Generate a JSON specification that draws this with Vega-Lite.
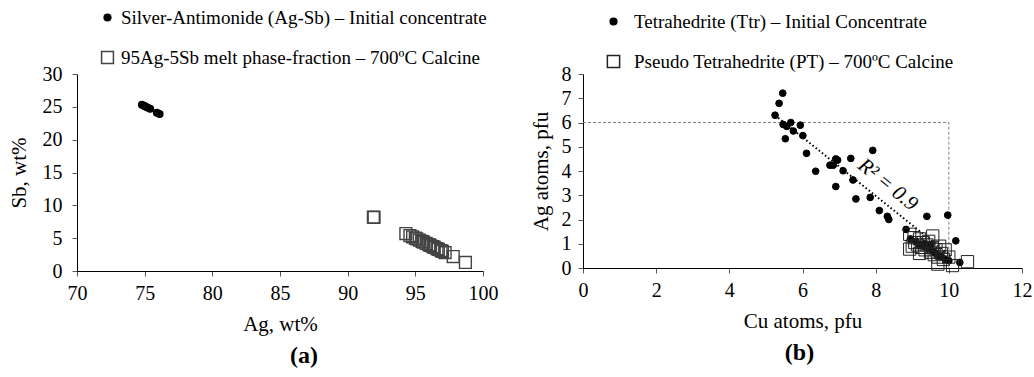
{
  "$schema": "https://vega.github.io/schema/vega-lite/v6.json",
  "padding": {"left": 8, "top": 8, "right": 2, "bottom": 2},
  "config": {
    "font": "Liberation Serif",
    "view": {"stroke": null},
    "axis": {"grid": false, "domainColor": "black", "tickColor": "#555", "labelColor": "black", "titleColor": "black", "labelFont": "Liberation Serif", "titleFont": "Liberation Serif", "labelFontSize": 20, "titleFontSize": 21, "titleFontWeight": "normal", "tickSize": 5, "labelPadding": 7, "titlePadding": 10, "labelFlush": false, "labelOverlap": false},
    "legend": {"labelFont": "Liberation Serif", "labelFontSize": 19, "labelColor": "black", "labelLimit": 700, "rowPadding": 20, "labelOffset": 4, "orient": "none"},
    "title": {"orient": "bottom", "font": "Liberation Serif", "fontSize": 24, "fontWeight": "bold", "color": "black", "offset": 10},
    "text": {"font": "Liberation Serif"},
    "concat": {"spacing": 32}
  },
  "resolve": {"scale": {"shape": "independent", "fill": "independent", "stroke": "independent", "size": "independent", "x": "independent", "y": "independent"}, "legend": {"shape": "independent", "fill": "independent", "stroke": "independent", "size": "independent"}},
  "hconcat": [
    {
      "width": 406,
      "height": 197,
      "title": {"text": "(a)", "dx": 24},
      "data": {"values": [
        {"Ag": 74.8, "Sb": 25.3, "series": "Silver-Antimonide (Ag-Sb) – Initial concentrate"},
        {"Ag": 75.0, "Sb": 25.1, "series": "Silver-Antimonide (Ag-Sb) – Initial concentrate"},
        {"Ag": 75.2, "Sb": 24.9, "series": "Silver-Antimonide (Ag-Sb) – Initial concentrate"},
        {"Ag": 75.4, "Sb": 24.7, "series": "Silver-Antimonide (Ag-Sb) – Initial concentrate"},
        {"Ag": 75.9, "Sb": 24.1, "series": "Silver-Antimonide (Ag-Sb) – Initial concentrate"},
        {"Ag": 76.1, "Sb": 23.9, "series": "Silver-Antimonide (Ag-Sb) – Initial concentrate"},
        {"Ag": 91.9, "Sb": 8.2, "series": "95Ag-5Sb melt phase-fraction – 700ºC Calcine"},
        {"Ag": 91.95, "Sb": 8.15, "series": "95Ag-5Sb melt phase-fraction – 700ºC Calcine"},
        {"Ag": 94.3, "Sb": 5.7, "series": "95Ag-5Sb melt phase-fraction – 700ºC Calcine"},
        {"Ag": 94.6, "Sb": 5.4, "series": "95Ag-5Sb melt phase-fraction – 700ºC Calcine"},
        {"Ag": 94.8, "Sb": 5.2, "series": "95Ag-5Sb melt phase-fraction – 700ºC Calcine"},
        {"Ag": 95.0, "Sb": 5.0, "series": "95Ag-5Sb melt phase-fraction – 700ºC Calcine"},
        {"Ag": 95.1, "Sb": 4.9, "series": "95Ag-5Sb melt phase-fraction – 700ºC Calcine"},
        {"Ag": 95.3, "Sb": 4.7, "series": "95Ag-5Sb melt phase-fraction – 700ºC Calcine"},
        {"Ag": 95.5, "Sb": 4.5, "series": "95Ag-5Sb melt phase-fraction – 700ºC Calcine"},
        {"Ag": 95.6, "Sb": 4.4, "series": "95Ag-5Sb melt phase-fraction – 700ºC Calcine"},
        {"Ag": 95.8, "Sb": 4.2, "series": "95Ag-5Sb melt phase-fraction – 700ºC Calcine"},
        {"Ag": 96.0, "Sb": 4.0, "series": "95Ag-5Sb melt phase-fraction – 700ºC Calcine"},
        {"Ag": 96.1, "Sb": 3.9, "series": "95Ag-5Sb melt phase-fraction – 700ºC Calcine"},
        {"Ag": 96.3, "Sb": 3.7, "series": "95Ag-5Sb melt phase-fraction – 700ºC Calcine"},
        {"Ag": 96.4, "Sb": 3.6, "series": "95Ag-5Sb melt phase-fraction – 700ºC Calcine"},
        {"Ag": 96.6, "Sb": 3.4, "series": "95Ag-5Sb melt phase-fraction – 700ºC Calcine"},
        {"Ag": 96.7, "Sb": 3.3, "series": "95Ag-5Sb melt phase-fraction – 700ºC Calcine"},
        {"Ag": 96.9, "Sb": 3.1, "series": "95Ag-5Sb melt phase-fraction – 700ºC Calcine"},
        {"Ag": 97.0, "Sb": 3.0, "series": "95Ag-5Sb melt phase-fraction – 700ºC Calcine"},
        {"Ag": 97.2, "Sb": 2.8, "series": "95Ag-5Sb melt phase-fraction – 700ºC Calcine"},
        {"Ag": 97.8, "Sb": 2.2, "series": "95Ag-5Sb melt phase-fraction – 700ºC Calcine"},
        {"Ag": 98.7, "Sb": 1.3, "series": "95Ag-5Sb melt phase-fraction – 700ºC Calcine"}
      ]},
      "mark": {"type": "point", "strokeWidth": 1.4, "opacity": 1},
      "encoding": {
        "x": {"field": "Ag", "type": "quantitative", "scale": {"domain": [70, 100], "nice": false, "zero": false}, "axis": {"values": [70, 75, 80, 85, 90, 95, 100], "title": "Ag, wt%", "format": "d"}},
        "y": {"field": "Sb", "type": "quantitative", "scale": {"domain": [0, 30], "nice": false}, "axis": {"values": [0, 5, 10, 15, 20, 25, 30], "title": "Sb, wt%", "format": "d", "labelPadding": 10, "titlePadding": 13}},
        "shape": {"field": "series", "type": "nominal", "scale": {"domain": ["Silver-Antimonide (Ag-Sb) – Initial concentrate", "95Ag-5Sb melt phase-fraction – 700ºC Calcine"], "range": ["circle", "square"]}, "legend": {"title": null, "legendX": 21, "legendY": -66}},
        "fill": {"field": "series", "type": "nominal", "scale": {"domain": ["Silver-Antimonide (Ag-Sb) – Initial concentrate", "95Ag-5Sb melt phase-fraction – 700ºC Calcine"], "range": ["black", "transparent"]}, "legend": {"title": null, "legendX": 21, "legendY": -66}},
        "stroke": {"field": "series", "type": "nominal", "scale": {"domain": ["Silver-Antimonide (Ag-Sb) – Initial concentrate", "95Ag-5Sb melt phase-fraction – 700ºC Calcine"], "range": ["black", "#444444"]}, "legend": {"title": null, "legendX": 21, "legendY": -66}},
        "size": {"field": "series", "type": "nominal", "scale": {"domain": ["Silver-Antimonide (Ag-Sb) – Initial concentrate", "95Ag-5Sb melt phase-fraction – 700ºC Calcine"], "range": [45, 140]}, "legend": {"title": null, "legendX": 21, "legendY": -66}}
      }
    },
    {
      "width": 439,
      "height": 194,
      "title": {"text": "(b)", "dx": -3},
      "encoding": {
        "x": {"field": "Cu", "type": "quantitative", "scale": {"domain": [0, 12], "nice": false}, "axis": {"values": [0, 2, 4, 6, 8, 10, 12], "title": "Cu atoms, pfu", "format": "d"}},
        "y": {"field": "AgA", "type": "quantitative", "scale": {"domain": [0, 8], "nice": false}, "axis": {"values": [0, 1, 2, 3, 4, 5, 6, 7, 8], "title": "Ag atoms, pfu", "format": "d"}}
      },
      "layer": [
        {
          "data": {"values": [
            {"Cu": 0, "AgA": 6, "k": 1},
            {"Cu": 10, "AgA": 6, "k": 2},
            {"Cu": 10, "AgA": 0, "k": 3}
          ]},
          "mark": {"type": "line", "color": "#666666", "strokeWidth": 0.8, "strokeDash": [3, 2]},
          "encoding": {
            "order": {"field": "k", "type": "quantitative"}
          }
        },
        {
          "data": {"values": [
            {"Cu": 5.25, "AgA": 6.3},
            {"Cu": 10.05, "AgA": 0.5}
          ]},
          "mark": {"type": "line", "color": "black", "strokeWidth": 2, "strokeDash": [1.5, 2.5]},
          "encoding": {}
        },
        {
          "data": {"values": [
            {"Cu": 5.46, "AgA": 7.21, "series": "Tetrahedrite (Ttr) – Initial Concentrate"},
            {"Cu": 5.36, "AgA": 6.79, "series": "Tetrahedrite (Ttr) – Initial Concentrate"},
            {"Cu": 5.25, "AgA": 6.30, "series": "Tetrahedrite (Ttr) – Initial Concentrate"},
            {"Cu": 5.47, "AgA": 5.92, "series": "Tetrahedrite (Ttr) – Initial Concentrate"},
            {"Cu": 5.57, "AgA": 5.84, "series": "Tetrahedrite (Ttr) – Initial Concentrate"},
            {"Cu": 5.68, "AgA": 6.00, "series": "Tetrahedrite (Ttr) – Initial Concentrate"},
            {"Cu": 5.75, "AgA": 5.65, "series": "Tetrahedrite (Ttr) – Initial Concentrate"},
            {"Cu": 5.94, "AgA": 5.89, "series": "Tetrahedrite (Ttr) – Initial Concentrate"},
            {"Cu": 5.53, "AgA": 5.33, "series": "Tetrahedrite (Ttr) – Initial Concentrate"},
            {"Cu": 6.01, "AgA": 5.46, "series": "Tetrahedrite (Ttr) – Initial Concentrate"},
            {"Cu": 6.11, "AgA": 4.73, "series": "Tetrahedrite (Ttr) – Initial Concentrate"},
            {"Cu": 6.36, "AgA": 3.99, "series": "Tetrahedrite (Ttr) – Initial Concentrate"},
            {"Cu": 6.75, "AgA": 4.24, "series": "Tetrahedrite (Ttr) – Initial Concentrate"},
            {"Cu": 6.84, "AgA": 4.24, "series": "Tetrahedrite (Ttr) – Initial Concentrate"},
            {"Cu": 6.91, "AgA": 4.50, "series": "Tetrahedrite (Ttr) – Initial Concentrate"},
            {"Cu": 6.96, "AgA": 4.45, "series": "Tetrahedrite (Ttr) – Initial Concentrate"},
            {"Cu": 7.32, "AgA": 4.52, "series": "Tetrahedrite (Ttr) – Initial Concentrate"},
            {"Cu": 7.92, "AgA": 4.85, "series": "Tetrahedrite (Ttr) – Initial Concentrate"},
            {"Cu": 7.11, "AgA": 4.01, "series": "Tetrahedrite (Ttr) – Initial Concentrate"},
            {"Cu": 7.38, "AgA": 3.63, "series": "Tetrahedrite (Ttr) – Initial Concentrate"},
            {"Cu": 6.91, "AgA": 3.36, "series": "Tetrahedrite (Ttr) – Initial Concentrate"},
            {"Cu": 7.46, "AgA": 2.85, "series": "Tetrahedrite (Ttr) – Initial Concentrate"},
            {"Cu": 7.85, "AgA": 2.91, "series": "Tetrahedrite (Ttr) – Initial Concentrate"},
            {"Cu": 8.10, "AgA": 2.37, "series": "Tetrahedrite (Ttr) – Initial Concentrate"},
            {"Cu": 8.32, "AgA": 2.13, "series": "Tetrahedrite (Ttr) – Initial Concentrate"},
            {"Cu": 8.36, "AgA": 2.00, "series": "Tetrahedrite (Ttr) – Initial Concentrate"},
            {"Cu": 9.40, "AgA": 2.13, "series": "Tetrahedrite (Ttr) – Initial Concentrate"},
            {"Cu": 9.97, "AgA": 2.18, "series": "Tetrahedrite (Ttr) – Initial Concentrate"},
            {"Cu": 8.83, "AgA": 1.59, "series": "Tetrahedrite (Ttr) – Initial Concentrate"},
            {"Cu": 10.19, "AgA": 1.12, "series": "Tetrahedrite (Ttr) – Initial Concentrate"},
            {"Cu": 10.30, "AgA": 0.23, "series": "Tetrahedrite (Ttr) – Initial Concentrate"},
            {"Cu": 8.95, "AgA": 1.20, "series": "Tetrahedrite (Ttr) – Initial Concentrate"},
            {"Cu": 9.10, "AgA": 1.10, "series": "Tetrahedrite (Ttr) – Initial Concentrate"},
            {"Cu": 9.20, "AgA": 0.95, "series": "Tetrahedrite (Ttr) – Initial Concentrate"},
            {"Cu": 9.30, "AgA": 0.90, "series": "Tetrahedrite (Ttr) – Initial Concentrate"},
            {"Cu": 9.35, "AgA": 1.00, "series": "Tetrahedrite (Ttr) – Initial Concentrate"},
            {"Cu": 9.45, "AgA": 0.80, "series": "Tetrahedrite (Ttr) – Initial Concentrate"},
            {"Cu": 9.50, "AgA": 0.95, "series": "Tetrahedrite (Ttr) – Initial Concentrate"},
            {"Cu": 9.55, "AgA": 0.70, "series": "Tetrahedrite (Ttr) – Initial Concentrate"},
            {"Cu": 9.60, "AgA": 0.65, "series": "Tetrahedrite (Ttr) – Initial Concentrate"},
            {"Cu": 9.65, "AgA": 0.60, "series": "Tetrahedrite (Ttr) – Initial Concentrate"},
            {"Cu": 9.70, "AgA": 0.50, "series": "Tetrahedrite (Ttr) – Initial Concentrate"},
            {"Cu": 9.80, "AgA": 0.45, "series": "Tetrahedrite (Ttr) – Initial Concentrate"},
            {"Cu": 9.90, "AgA": 0.35, "series": "Tetrahedrite (Ttr) – Initial Concentrate"},
            {"Cu": 10.00, "AgA": 0.30, "series": "Tetrahedrite (Ttr) – Initial Concentrate"},
            {"Cu": 8.93, "AgA": 1.39, "series": "Pseudo Tetrahedrite (PT) – 700ºC Calcine"},
            {"Cu": 8.93, "AgA": 0.78, "series": "Pseudo Tetrahedrite (PT) – 700ºC Calcine"},
            {"Cu": 9.07, "AgA": 1.05, "series": "Pseudo Tetrahedrite (PT) – 700ºC Calcine"},
            {"Cu": 9.05, "AgA": 1.25, "series": "Pseudo Tetrahedrite (PT) – 700ºC Calcine"},
            {"Cu": 9.15, "AgA": 0.95, "series": "Pseudo Tetrahedrite (PT) – 700ºC Calcine"},
            {"Cu": 9.20, "AgA": 1.20, "series": "Pseudo Tetrahedrite (PT) – 700ºC Calcine"},
            {"Cu": 9.25, "AgA": 0.85, "series": "Pseudo Tetrahedrite (PT) – 700ºC Calcine"},
            {"Cu": 9.30, "AgA": 1.05, "series": "Pseudo Tetrahedrite (PT) – 700ºC Calcine"},
            {"Cu": 9.35, "AgA": 0.75, "series": "Pseudo Tetrahedrite (PT) – 700ºC Calcine"},
            {"Cu": 9.40, "AgA": 0.95, "series": "Pseudo Tetrahedrite (PT) – 700ºC Calcine"},
            {"Cu": 9.45, "AgA": 1.10, "series": "Pseudo Tetrahedrite (PT) – 700ºC Calcine"},
            {"Cu": 9.50, "AgA": 0.65, "series": "Pseudo Tetrahedrite (PT) – 700ºC Calcine"},
            {"Cu": 9.55, "AgA": 0.85, "series": "Pseudo Tetrahedrite (PT) – 700ºC Calcine"},
            {"Cu": 9.56, "AgA": 1.32, "series": "Pseudo Tetrahedrite (PT) – 700ºC Calcine"},
            {"Cu": 9.60, "AgA": 0.55, "series": "Pseudo Tetrahedrite (PT) – 700ºC Calcine"},
            {"Cu": 9.65, "AgA": 0.75, "series": "Pseudo Tetrahedrite (PT) – 700ºC Calcine"},
            {"Cu": 9.70, "AgA": 0.45, "series": "Pseudo Tetrahedrite (PT) – 700ºC Calcine"},
            {"Cu": 9.70, "AgA": 0.16, "series": "Pseudo Tetrahedrite (PT) – 700ºC Calcine"},
            {"Cu": 9.75, "AgA": 0.90, "series": "Pseudo Tetrahedrite (PT) – 700ºC Calcine"},
            {"Cu": 9.80, "AgA": 0.60, "series": "Pseudo Tetrahedrite (PT) – 700ºC Calcine"},
            {"Cu": 9.85, "AgA": 0.35, "series": "Pseudo Tetrahedrite (PT) – 700ºC Calcine"},
            {"Cu": 9.90, "AgA": 0.75, "series": "Pseudo Tetrahedrite (PT) – 700ºC Calcine"},
            {"Cu": 10.00, "AgA": 0.45, "series": "Pseudo Tetrahedrite (PT) – 700ºC Calcine"},
            {"Cu": 10.10, "AgA": 0.10, "series": "Pseudo Tetrahedrite (PT) – 700ºC Calcine"},
            {"Cu": 10.51, "AgA": 0.26, "series": "Pseudo Tetrahedrite (PT) – 700ºC Calcine"},
            {"Cu": 9.20, "AgA": 0.60, "series": "Pseudo Tetrahedrite (PT) – 700ºC Calcine"},
            {"Cu": 9.00, "AgA": 0.90, "series": "Pseudo Tetrahedrite (PT) – 700ºC Calcine"}
          ]},
          "mark": {"type": "point", "strokeWidth": 1, "opacity": 1},
          "encoding": {
            "shape": {"field": "series", "type": "nominal", "scale": {"domain": ["Tetrahedrite (Ttr) – Initial Concentrate", "Pseudo Tetrahedrite (PT) – 700ºC Calcine"], "range": ["circle", "square"]}, "legend": {"title": null, "legendX": 21, "legendY": -62, "labelOffset": 11}},
            "fill": {"field": "series", "type": "nominal", "scale": {"domain": ["Tetrahedrite (Ttr) – Initial Concentrate", "Pseudo Tetrahedrite (PT) – 700ºC Calcine"], "range": ["black", "transparent"]}, "legend": {"title": null, "legendX": 21, "legendY": -62, "labelOffset": 11}},
            "stroke": {"field": "series", "type": "nominal", "scale": {"domain": ["Tetrahedrite (Ttr) – Initial Concentrate", "Pseudo Tetrahedrite (PT) – 700ºC Calcine"], "range": ["black", "#222222"]}, "legend": {"title": null, "legendX": 21, "legendY": -62, "labelOffset": 11}},
            "size": {"field": "series", "type": "nominal", "scale": {"domain": ["Tetrahedrite (Ttr) – Initial Concentrate", "Pseudo Tetrahedrite (PT) – 700ºC Calcine"], "range": [45, 150]}, "legend": {"title": null, "legendX": 21, "legendY": -62, "labelOffset": 11}}
          }
        },
        {
          "data": {"values": [{"Cu": 8.33, "AgA": 3.43, "label": "R² = 0.9"}]},
          "mark": {"type": "text", "angle": 39, "fontSize": 21, "fontStyle": "italic", "color": "black", "font": "Liberation Serif"},
          "encoding": {
            "text": {"field": "label"}
          }
        }
      ]
    }
  ]
}
